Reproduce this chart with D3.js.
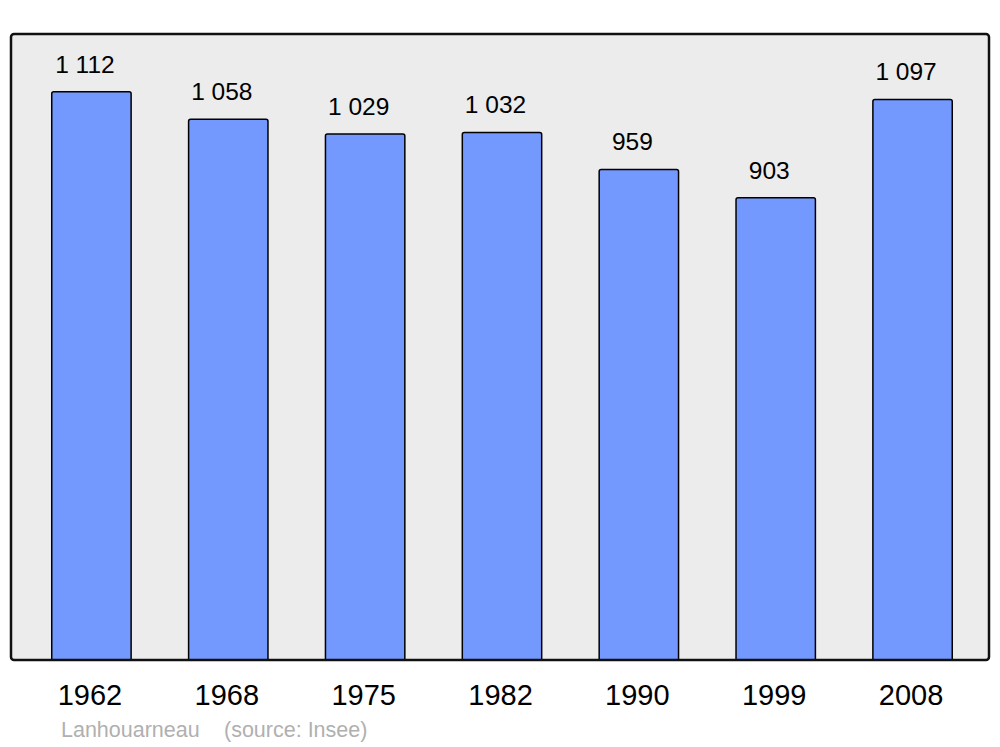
<!DOCTYPE html>
<html><head><meta charset="utf-8">
<script src="https://cdn.jsdelivr.net/npm/d3@7"></script>
<style>html,body{margin:0;padding:0;background:#fff}svg{display:block}</style>
</head><body>
<script>
const years = ["1962","1968","1975","1982","1990","1999","2008"];
const population = [1112,1058,1029,1032,959,903,1097];
const valueLabels = ["1 112","1 058","1 029","1 032","959","903","1 097"];
const commune = "Lanhouarneau";
const source = "(source: Insee)";

const W = 1000, H = 747;
const frame = {x0: 11, x1: 989, y0: 34, y1: 660};
const svg = d3.select("body").append("svg").attr("width", W).attr("height", H);

svg.append("defs").append("clipPath").attr("id","fclip")
  .append("rect").attr("x", frame.x0).attr("y", frame.y0)
  .attr("width", frame.x1 - frame.x0).attr("height", frame.y1 - frame.y0);

svg.append("rect").attr("x", frame.x0).attr("y", frame.y0)
  .attr("width", frame.x1 - frame.x0).attr("height", frame.y1 - frame.y0)
  .attr("rx", 3).attr("fill", "#ececec");

const x = d3.scaleBand().domain(years).range([23, 981]).paddingInner(0.42).paddingOuter(0.21);
const y = d3.scaleLinear().domain([-8, 1226]).range([frame.y1, frame.y0]);

const g = svg.append("g");
g.append("g").attr("clip-path","url(#fclip)")
  .selectAll("rect.bar").data(years).join("rect").attr("class","bar")
  .attr("x", d => x(d)).attr("width", x.bandwidth())
  .attr("y", (d,i) => y(population[i]))
  .attr("height", (d,i) => frame.y1 - y(population[i]) + 3)
  .attr("rx", 2)
  .attr("fill", "#7399ff").attr("stroke", "#000").attr("stroke-width", 1.5);

g.selectAll("text.val").data(years).join("text").attr("class","val")
  .attr("x", d => x(d) + x.bandwidth()/2 - 6.5)
  .attr("y", (d,i) => y(population[i]) - 19)
  .attr("text-anchor","middle")
  .attr("font-family","Liberation Sans, Arial, sans-serif").attr("font-size", 24.5)
  .attr("fill","#000")
  .text((d,i) => valueLabels[i]);

svg.append("rect").attr("x", frame.x0).attr("y", frame.y0)
  .attr("width", frame.x1 - frame.x0).attr("height", frame.y1 - frame.y0)
  .attr("rx", 3).attr("fill", "none").attr("stroke", "#111").attr("stroke-width", 2.5);

const xAxis = svg.append("g").attr("transform", `translate(0,${frame.y1})`)
  .call(d3.axisBottom(x).tickSize(0).tickPadding(24));
xAxis.select(".domain").remove();
xAxis.selectAll("text").attr("font-family","Liberation Sans, Arial, sans-serif")
  .attr("font-size", 29).attr("fill","#000").attr("dx", -1.5);

svg.append("text").attr("x", 61).attr("y", 737)
  .attr("font-family","Liberation Sans, Arial, sans-serif").attr("font-size", 21.5)
  .attr("fill","#b0b0b0").text(commune);
svg.append("text").attr("x", 224).attr("y", 737)
  .attr("font-family","Liberation Sans, Arial, sans-serif").attr("font-size", 21.5)
  .attr("fill","#b0b0b0").text(source);
</script>
</body></html>
